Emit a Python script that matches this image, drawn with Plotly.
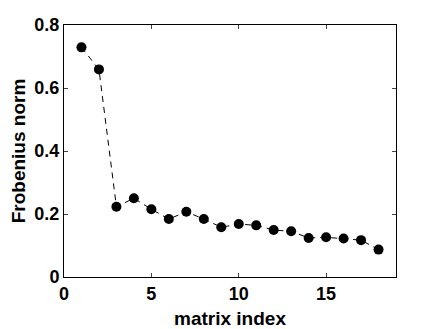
import plotly.graph_objects as go

matrix_index = list(range(1, 19))
frob_norm = [0.729, 0.659, 0.223, 0.250, 0.215, 0.184, 0.207, 0.184, 0.158,
             0.168, 0.164, 0.149, 0.145, 0.124, 0.126, 0.122, 0.117, 0.087]

fig = go.Figure()
fig.add_trace(go.Scatter(x=matrix_index, y=frob_norm, mode="lines+markers",
                         line=dict(color="black", width=1, dash="6px,5px"),
                         marker=dict(color="black", size=10)))

tick_font = dict(family="Liberation Sans", size=18, color="black", weight="bold")
title_font = dict(family="Liberation Sans", size=19, color="black", weight="bold")
fig.update_xaxes(range=[0, 19], tickvals=[0, 5, 10, 15], ticks="inside", ticklen=4,
                 showline=True, linecolor="black", linewidth=1, mirror="ticks",
                 showgrid=False, zeroline=False, automargin=False,
                 tickfont=tick_font, title=dict(text="matrix index", font=title_font, standoff=9))
fig.update_yaxes(range=[0, 0.8], tickvals=[0, 0.2, 0.4, 0.6, 0.8], ticktext=["0", "0.2", "0.4", "0.6", "0.8"],
                 ticks="inside", ticklen=4,
                 showline=True, linecolor="black", linewidth=1, mirror="ticks",
                 showgrid=False, zeroline=False, automargin=False,
                 tickfont=tick_font, title=dict(text="Frobenius norm", font=title_font, standoff=11))
# page body has an 8px margin, so the figure is drawn 8px smaller and offset
fig.update_layout(width=428, height=321, showlegend=False,
                  margin=dict(l=56, r=40, t=17, b=52),
                  plot_bgcolor="white", paper_bgcolor="white")
fig.write_html("out.html")
